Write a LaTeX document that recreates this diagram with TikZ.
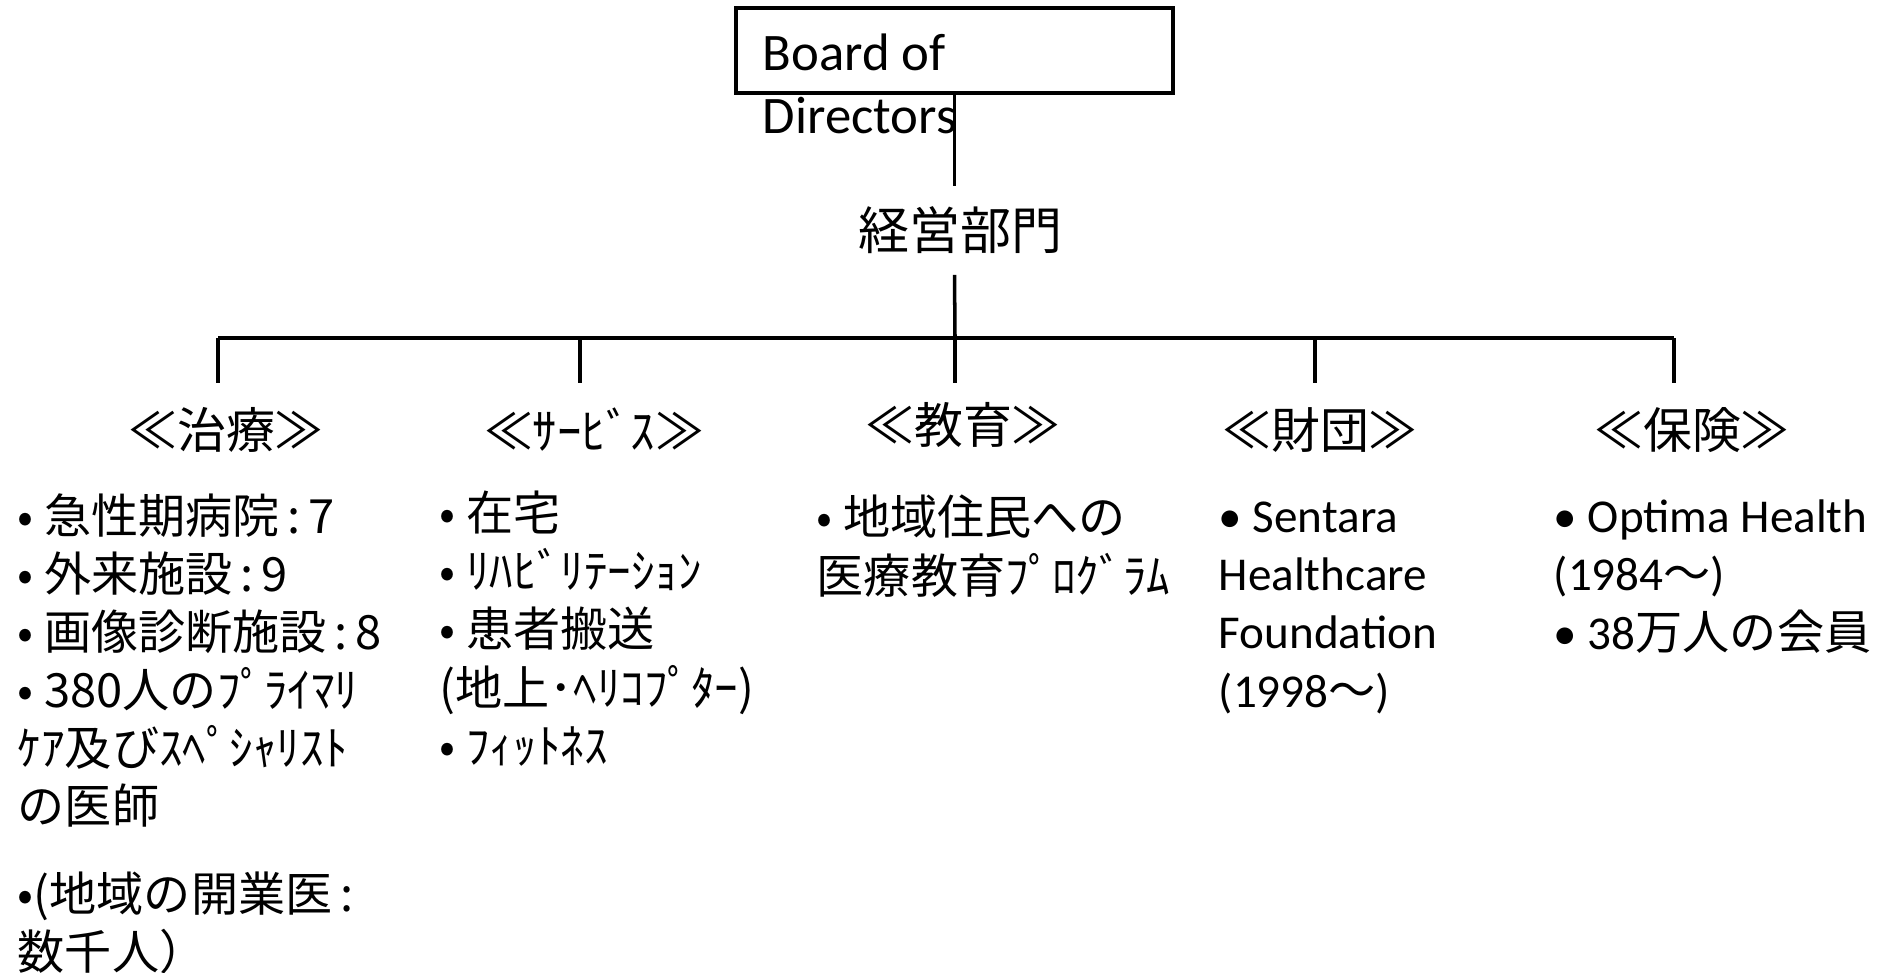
\documentclass[tikz,border=0pt]{standalone}
\usepackage{fontspec}
\setmainfont{Carlito}
\newfontfamily\jp{Noto Sans CJK JP}

\begin{document}
\begin{tikzpicture}[x=0.01cm, y=-0.01cm, line width=1pt,
    every node/.style={inner sep=0pt},
    board/.style={draw, rectangle, minimum width=4.37cm, minimum height=0.85cm},
    head/.style={font=\fontsize{13.9pt}{16pt}\selectfont\jp},
    list/.style={anchor=base west, align=left, font=\fontsize{13.4pt}{16.5pt}\selectfont\jp},
    latin/.style={anchor=base west, align=left, font=\fontsize{13.4pt}{16.5pt}\selectfont\rmfamily}]
    \useasboundingbox (0,0) rectangle (1880,972);
    \node[board] (board) at (954.5,50.5) {};
    % base = baseline of the last line
    \node[anchor=base west, align=left, font=\fontsize{15pt}{17.9pt}\selectfont] (boardtxt) at (761,133) {Board of\\Directors};
    \node[font=\fontsize{14.5pt}{16pt}\selectfont\jp, minimum height=0.85cm] (mgmt) at (960,230.5) {経営部門};
    \draw (board.south) -- (board.south |- mgmt.north);
    % branches
    \foreach \x [count=\i] in {218,580,955,1315,1674} {
        \coordinate (b\i) at (\x,338);
        \coordinate (t\i) at (\x,383);
        \draw (b\i) -- (t\i);
    }
    \draw (b1) -- (b5);
    \draw (board.south |- mgmt.south) -- (b3);
    % heads
    \node[head] (cure) at (226,430) {≪治療≫};
    \node[head] (serv) at (594,430) {≪ｻｰﾋﾞｽ≫};
    \node[head] (edu) at (963,425) {≪教育≫};
    \node[head] (fund) at (1320,430) {≪財団≫};
    \node[head] (ins) at (1692,430) {≪保険≫};
    % lists
    \node[list] (curelist) at (16,969) {• 急性期病院\,:\,7\\• 外来施設\,:\,9\\• 画像診断施設\,:\,8\\• 380人のﾌﾟﾗｲﾏﾘ\\ｹｱ及びｽﾍﾟｼｬﾘｽﾄ\\の医師\\[0.29cm]•(地域の開業医\,:\\数千人）};
    \node[list] (servlist) at (438,763) {• 在宅\\• ﾘﾊﾋﾞﾘﾃｰｼｮﾝ\\• 患者搬送\\(地上･ﾍﾘｺﾌﾟﾀｰ)\\• ﾌｨｯﾄﾈｽ};
    \node[list] (edulist) at (815,593) {• 地域住民への\\医療教育ﾌﾟﾛｸﾞﾗﾑ};
    \node[latin] (fundlist) at (1217,707) {• Sentara\\Healthcare\\Foundation\\(1998{\jp 〜})};
    \node[latin] (inslist) at (1552,649) {• Optima Health\\(1984{\jp 〜})\\• 38{\jp 万人の会員}};
\end{tikzpicture}
\end{document}
